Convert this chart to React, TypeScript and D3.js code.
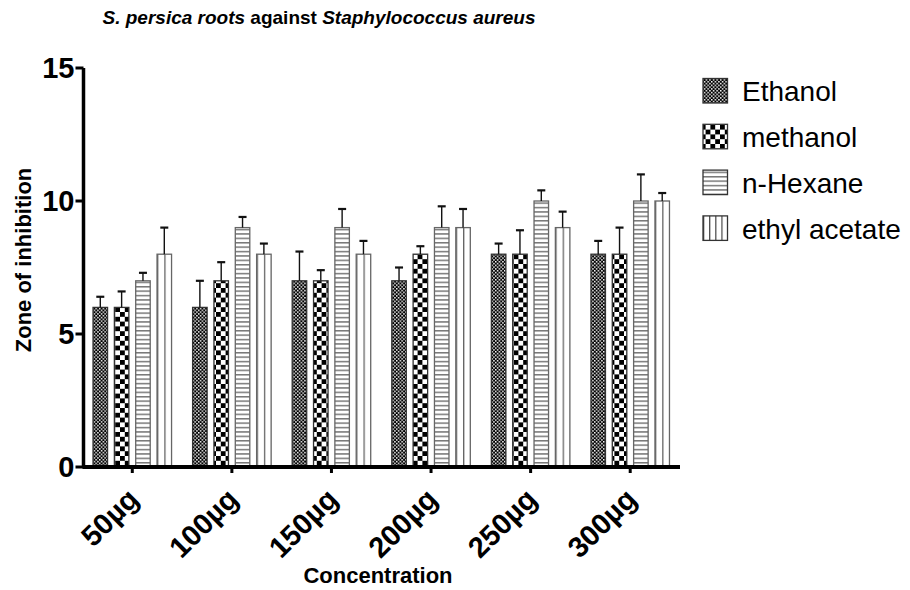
import React from "react";
import * as d3 from "d3";

// Concentrations tested and extraction solvents
const concentrations = ["50µg", "100µg", "150µg", "200µg", "250µg", "300µg"];
const solvents = ["Ethanol", "methanol", "n-Hexane", "ethyl acetate"];

// Mean zone of inhibition per solvent, one value per concentration
const ethanolMean = [6, 6, 7, 7, 8, 8];
const methanolMean = [6, 7, 7, 8, 8, 8];
const hexaneMean = [7, 9, 9, 9, 10, 10];
const ethylAcetateMean = [8, 8, 8, 9, 9, 10];

// Standard deviation (upper error bar) per solvent
const ethanolSd = [0.4, 1.0, 1.1, 0.5, 0.4, 0.5];
const methanolSd = [0.6, 0.7, 0.4, 0.3, 0.9, 1.0];
const hexaneSd = [0.3, 0.4, 0.7, 0.8, 0.4, 1.0];
const ethylAcetateSd = [1.0, 0.4, 0.5, 0.7, 0.6, 0.3];

const yTicks = [0, 5, 10, 15];

const means = [ethanolMean, methanolMean, hexaneMean, ethylAcetateMean];
const sds = [ethanolSd, methanolSd, hexaneSd, ethylAcetateSd];
const fills = ["url(#pEthanol)", "url(#pMethanol)", "url(#pHexane)", "url(#pEthyl)"];
const legendFills = ["url(#pEthanol)", "url(#pMethanol)", "url(#pHexane)", "url(#pEthylLegend)"];
const strokes = ["#333", "#333", "#666", "#666"];

const FONT = "'Liberation Sans', Arial, Helvetica, sans-serif";

export default function App() {
  const width = 910;
  const height = 590;
  const left = 82.5;
  const right = 680;
  const top = 68;
  const bottom = 467;

  const y = d3.scaleLinear().domain([0, 15]).range([bottom, top]);
  const x0 = d3
    .scaleBand<string>()
    .domain(concentrations)
    .range([left, right])
    .paddingInner(0.143)
    .paddingOuter(0.0715);
  const x1 = d3
    .scaleBand<string>()
    .domain(solvents)
    .range([0, x0.bandwidth()])
    .paddingInner(0.32)
    .paddingOuter(0.16);

  const bars: React.ReactNode[] = [];
  const errors: React.ReactNode[] = [];
  concentrations.forEach((c, ci) => {
    solvents.forEach((s, si) => {
      const v = means[si][ci];
      const e = sds[si][ci];
      const bx = (x0(c) as number) + (x1(s) as number);
      const bw = x1.bandwidth();
      const cx = bx + bw / 2;
      bars.push(
        <rect
          key={`b-${c}-${s}`}
          x={bx}
          y={y(v)}
          width={bw}
          height={y(0) - y(v)}
          fill={fills[si]}
          stroke={strokes[si]}
          strokeWidth={1.3}
        />
      );
      errors.push(
        <g key={`e-${c}-${s}`}>
          <line x1={cx} x2={cx} y1={y(v)} y2={y(v + e)} stroke="#111" strokeWidth={1.4} />
          <line x1={cx - 4} x2={cx + 4} y1={y(v + e)} y2={y(v + e)} stroke="#111" strokeWidth={2.2} />
        </g>
      );
    });
  });

  return (
    <svg
      width={width}
      height={height}
      style={{ position: "absolute", left: 0, top: 0, background: "#fff" }}
      fontFamily={FONT}
    >
      <defs>
        <pattern id="pEthanol" patternUnits="userSpaceOnUse" width={3.6} height={3.6}>
          <rect width={3.6} height={3.6} fill="#000" />
          <rect x={0} y={0} width={1.5} height={1.5} fill="#fff" />
          <rect x={1.8} y={1.8} width={1.5} height={1.5} fill="#fff" />
        </pattern>
        <pattern id="pMethanol" patternUnits="userSpaceOnUse" width={9.6} height={9.6}>
          <rect width={9.6} height={9.6} fill="#fff" />
          <rect x={0} y={0} width={4.8} height={4.8} fill="#000" />
          <rect x={4.8} y={4.8} width={4.8} height={4.8} fill="#000" />
        </pattern>
        <pattern id="pHexane" patternUnits="userSpaceOnUse" width={10} height={4.4}>
          <rect width={10} height={4.4} fill="#fff" />
          <rect x={0} y={0} width={10} height={1.5} fill="#777" />
        </pattern>
        <pattern id="pEthyl" patternUnits="objectBoundingBox" width={0.5} height={1}>
          <rect width={40} height={600} fill="#fff" />
          <rect x={0} y={0} width={1.3} height={600} fill="#666" />
        </pattern>
        <pattern id="pEthylLegend" patternUnits="objectBoundingBox" width={0.25} height={1}>
          <rect width={40} height={600} fill="#fff" />
          <rect x={0} y={0} width={1.2} height={600} fill="#444" />
        </pattern>
      </defs>

      {/* title */}
      <text x={319} y={24} textAnchor="middle" fontSize={19} fontWeight="bold">
        <tspan fontStyle="italic">S. persica roots</tspan>
        <tspan> against </tspan>
        <tspan fontStyle="italic">Staphylococcus aureus</tspan>
      </text>

      {bars}
      {errors}

      {/* y axis */}
      <line x1={left + 1} x2={left + 1} y1={top} y2={bottom} stroke="#000" strokeWidth={3.5} />
      {yTicks.map((t) => (
        <g key={`yt-${t}`}>
          <line x1={left - 7} x2={left + 1} y1={y(t)} y2={y(t)} stroke="#000" strokeWidth={3} />
          <text
            x={left - 8}
            y={y(t)}
            dy="0.36em"
            textAnchor="end"
            fontSize={29}
            fontWeight="bold"
          >
            {t}
          </text>
        </g>
      ))}
      <text
        transform={`translate(23, 260) rotate(-90)`}
        textAnchor="middle"
        dy="0.35em"
        fontSize={22}
        fontWeight="bold"
      >
        Zone of inhibition
      </text>

      {/* x axis */}
      <line x1={left} x2={right} y1={bottom} y2={bottom} stroke="#000" strokeWidth={4} />
      {concentrations.map((c) => {
        const cx = (x0(c) as number) + x0.bandwidth() / 2;
        return (
          <g key={`xt-${c}`}>
            <line x1={cx} x2={cx} y1={bottom} y2={bottom + 6} stroke="#000" strokeWidth={3} />
            <text
              transform={`translate(${cx + 8}, 501) rotate(-45)`}
              textAnchor="end"
              fontSize={29}
              fontWeight="bold"
            >
              {c}
            </text>
          </g>
        );
      })}
      <text x={378} y={583} textAnchor="middle" fontSize={22} fontWeight="bold">
        Concentration
      </text>

      {/* legend */}
      {solvents.map((s, i) => {
        const cy = 90.8 + i * 45.8;
        return (
          <g key={`lg-${s}`}>
            <rect
              x={703}
              y={cy - 12.3}
              width={24.5}
              height={24.5}
              fill={legendFills[i]}
              stroke="#333"
              strokeWidth={1.3}
            />
            <text x={742} y={cy + 10.6} fontSize={28}>
              {s}
            </text>
          </g>
        );
      })}
    </svg>
  );
}
